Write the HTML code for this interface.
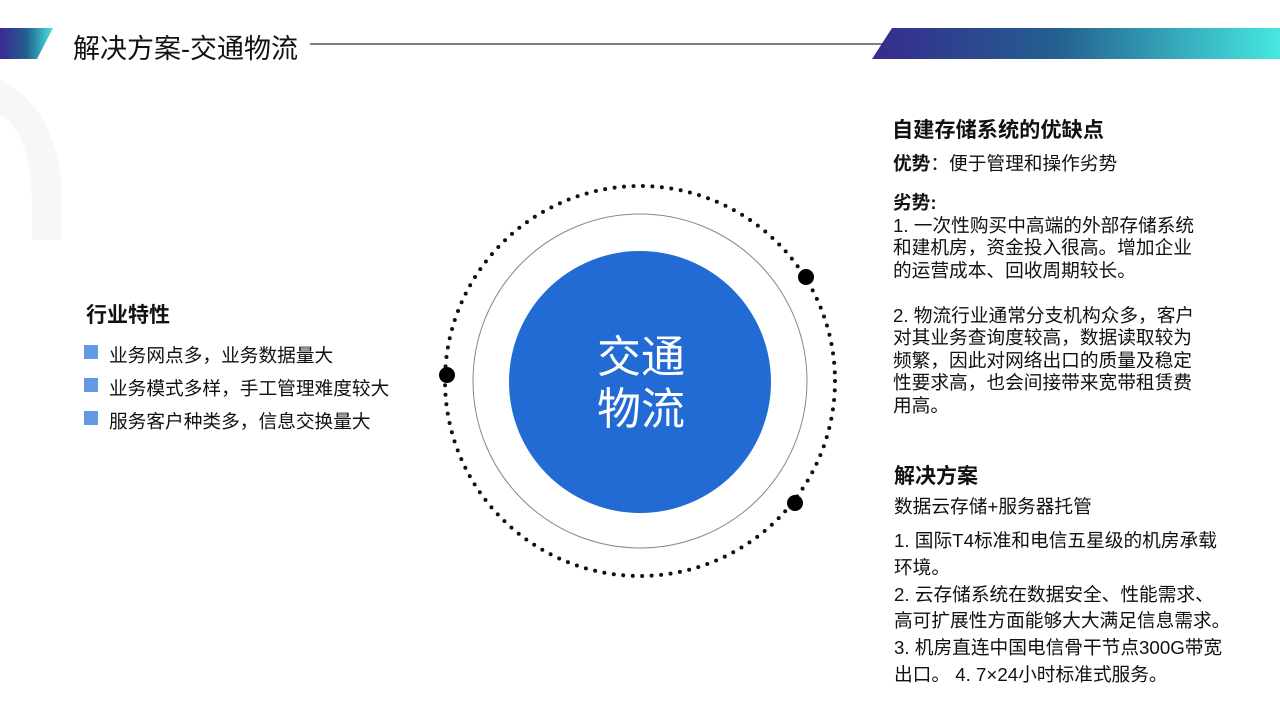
<!DOCTYPE html>
<html><head><meta charset="utf-8"><style>
body{margin:0;width:1280px;height:720px;position:relative;overflow:hidden;background:#fff;font-family:"Liberation Sans","Noto Sans CJK SC",sans-serif;color:#111}
.t{position:absolute;white-space:nowrap}
.p{position:absolute;font-size:18.7px;line-height:22.5px}
b{font-weight:bold}
</style></head><body>
<svg width="1280" height="720" style="position:absolute;left:0;top:0">
<defs>
<linearGradient id="g1" x1="0" x2="1"><stop offset="0" stop-color="#3a2a90"/><stop offset="0.5" stop-color="#235f8f"/><stop offset="1" stop-color="#45e6de"/></linearGradient>
<linearGradient id="g2" x1="0" x2="1"><stop offset="0" stop-color="#372b8e"/><stop offset="0.45" stop-color="#235f8f"/><stop offset="1" stop-color="#46e8e0"/></linearGradient>
</defs>
<path d="M0 80 Q60 110 62 200 L62 240 L32 240 L32 200 Q30 130 0 115 Z" fill="#f7f7f7"/>
<polygon points="0,28 53,28 37,59 0,59" fill="url(#g1)"/>
<polygon points="892,28 1280,28 1280,59 872,59" fill="url(#g2)"/>
<line x1="310" y1="44" x2="884" y2="44" stroke="#333" stroke-width="1.2"/>
<circle cx="640" cy="381" r="195" fill="none" stroke="#111" stroke-width="4" stroke-dasharray="0 9.5" stroke-linecap="round"/>
<circle cx="640" cy="381" r="167" fill="none" stroke="#888" stroke-width="1"/>
<circle cx="640" cy="382" r="131" fill="#226ad4"/>
<circle cx="447" cy="375" r="8" fill="#000"/>
<circle cx="806" cy="277" r="8" fill="#000"/>
<circle cx="795" cy="503" r="8" fill="#000"/>
<rect x="84" y="345" width="14" height="14" fill="#6499e6"/>
<rect x="84" y="378" width="14" height="14" fill="#6499e6"/>
<rect x="84" y="411" width="14" height="14" fill="#6499e6"/>
</svg>
<div class="t" style="left:73px;top:27px;font-size:27px">解决方案-交通物流</div>
<div class="t" style="left:597px;top:332px;font-size:44px;color:#fff;line-height:52px;white-space:normal;width:100px">交通<br>物流</div>
<div class="t" style="left:86px;top:299px;font-size:21px;font-weight:bold">行业特性</div>
<div class="t" style="left:109px;top:341px;font-size:18.7px">业务网点多，业务数据量大</div>
<div class="t" style="left:109px;top:374px;font-size:18.7px">业务模式多样，手工管理难度较大</div>
<div class="t" style="left:109px;top:407px;font-size:18.7px">服务客户种类多，信息交换量大</div>
<div class="t" style="left:892px;top:113px;font-size:21.2px;font-weight:bold">自建存储系统的优缺点</div>
<div class="t" style="left:893px;top:149px;font-size:18.7px"><b>优势</b>：便于管理和操作劣势</div>
<div class="p" style="left:893px;top:192px"><b>劣势:</b><br>1. 一次性购买中高端的外部存储系统<br>和建机房，资金投入很高。增加企业<br>的运营成本、回收周期较长。<br><br>2. 物流行业通常分支机构众多，客户<br>对其业务查询度较高，数据读取较为<br>频繁，因此对网络出口的质量及稳定<br>性要求高，也会间接带来宽带租赁费<br>用高。</div>
<div class="t" style="left:894px;top:460px;font-size:21px;font-weight:bold">解决方案</div>
<div class="t" style="left:894px;top:492px;font-size:18.7px">数据云存储+服务器托管</div>
<div class="p" style="left:894px;top:528px;line-height:26.8px">1. 国际T4标准和电信五星级的机房承载<br>环境。<br>2. 云存储系统在数据安全、性能需求、<br>高可扩展性方面能够大大满足信息需求。<br>3. 机房直连中国电信骨干节点300G带宽<br>出口。 4. 7×24小时标准式服务。</div>
</body></html>
